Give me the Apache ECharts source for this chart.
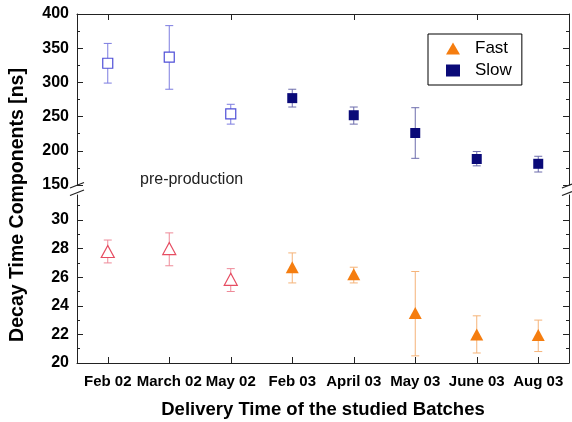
<!DOCTYPE html>
<html>
<head>
    <meta charset="utf-8">
    <title>Decay time components</title>
    <script src="https://cdn.jsdelivr.net/npm/echarts@6/dist/echarts.min.js"></script>
    <style>
        body { margin: 0; background: #fff; }
    </style>
</head>
<body>
<div id="main" style="width: 572px;height:422px;"></div>
<script type="text/javascript">
    // batches, first three are pre-production
    var categories = ['Feb 02', 'March 02', 'May 02', 'Feb 03', 'April 03', 'May 03', 'June 03', 'Aug 03'];
    var nPre = 3;

    // slow component [ns]
    var slowVal  = [328, 337, 254, 277, 252, 226, 188, 181];
    var slowLow  = [299, 290, 239, 264, 239, 189, 178, 169];
    var slowHigh = [357, 383, 268, 290, 264, 263, 199, 192];

    // fast component [ns]
    var fastVal  = [27.8, 28.0, 25.85, 26.7, 26.2, 23.5, 22.0, 21.95];
    var fastLow  = [27.0, 26.8, 25.0, 25.6, 25.6, 20.5, 20.7, 20.8];
    var fastHigh = [28.6, 29.1, 26.6, 27.7, 26.7, 26.4, 23.3, 23.0];

    var fastTicks = [20, 22, 24, 26, 28, 30];
    var fastMinor = [21, 23, 25, 27, 29, 31];

    var axisCol = '#222';
    var font = 'Arial, "Liberation Sans", sans-serif';

    function points(vals, pre) {
        var out = [];
        for (var i = 0; i < vals.length; i++) {
            if ((i < nPre) === pre) out.push([i, vals[i]]);
        }
        return out;
    }

    function bars(low, high, pre) {
        var out = [];
        for (var i = 0; i < low.length; i++) {
            if ((i < nPre) === pre) out.push([i, low[i], high[i]]);
        }
        return out;
    }

    function errorBar(color) {
        return function (params, api) {
            var lo = api.coord([api.value(0), api.value(1)]);
            var hi = api.coord([api.value(0), api.value(2)]);
            var w = 4;
            var st = { stroke: color, lineWidth: 1 };
            return {
                type: 'group',
                children: [
                    { type: 'line', shape: { x1: lo[0], y1: lo[1], x2: hi[0], y2: hi[1] }, style: st },
                    { type: 'line', shape: { x1: lo[0] - w, y1: lo[1], x2: lo[0] + w, y2: lo[1] }, style: st },
                    { type: 'line', shape: { x1: hi[0] - w, y1: hi[1], x2: hi[0] + w, y2: hi[1] }, style: st }
                ]
            };
        };
    }

    function catAxis(grid, pos, labels) {
        return {
            type: 'category',
            gridIndex: grid,
            position: pos,
            data: categories,
            boundaryGap: true,
            axisLine: { show: true, lineStyle: { color: axisCol, width: 1 } },
            axisTick: { show: true, inside: true, alignWithLabel: true, length: 6, lineStyle: { color: axisCol } },
            axisLabel: labels ? {
                show: true, interval: 0, margin: 11,
                color: '#000', fontSize: 15, fontWeight: 'bold', fontFamily: font
            } : { show: false },
            splitLine: { show: false }
        };
    }

    var myChart = echarts.init(document.getElementById('main'));
    var option = {
        animation: false,
        backgroundColor: '#fff',
        grid: [
            { left: 77, right: 3, top: 14, height: 171 },
            { left: 77, right: 3, top: 195, height: 168 }
        ],
        legend: {
            data: ['Fast', 'Slow'],
            orient: 'vertical',
            left: 428,
            top: 34,
            padding: [6, 10, 6, 18],
            itemGap: 5,
            itemWidth: 14,
            itemHeight: 12,
            borderColor: '#000',
            borderWidth: 1,
            textStyle: { fontSize: 17, fontFamily: font, color: '#000', padding: [0, 0, 0, 10] }
        },
        xAxis: [
            // top grid, hosts the data (no visible line at the break)
            Object.assign(catAxis(0, 'bottom', false), { axisLine: { show: false }, axisTick: { show: false } }),
            // top frame
            catAxis(0, 'top', false),
            // bottom grid with labels
            Object.assign(catAxis(1, 'bottom', true), {
                name: 'Delivery Time of the studied Batches',
                nameLocation: 'middle',
                nameGap: 37,
                nameTextStyle: { fontSize: 18.5, fontWeight: 'bold', fontFamily: font, color: '#000' }
            })
        ],
        yAxis: [
            {
                type: 'value', gridIndex: 0, position: 'left',
                min: 150, max: 400, interval: 50,
                axisLine: { show: true, lineStyle: { color: axisCol } },
                axisTick: { show: true, inside: true, length: 6, lineStyle: { color: axisCol } },
                minorTick: { show: true, splitNumber: 2, length: 3, lineStyle: { color: axisCol } },
                axisLabel: { margin: 8, color: '#000', fontSize: 16, fontWeight: 'bold', fontFamily: font },
                splitLine: { show: false }
            },
            {
                type: 'value', gridIndex: 0, position: 'right',
                min: 150, max: 400, interval: 50,
                axisLine: { show: true, lineStyle: { color: axisCol } },
                axisTick: { show: true, inside: true, length: 6, lineStyle: { color: axisCol } },
                minorTick: { show: true, splitNumber: 2, length: 3, lineStyle: { color: axisCol } },
                axisLabel: { show: false },
                splitLine: { show: false }
            },
            {
                type: 'value', gridIndex: 1, position: 'left',
                min: 20, max: 31.75, interval: 2,
                axisLine: { show: true, lineStyle: { color: axisCol } },
                axisTick: { show: true, inside: true, length: 6, customValues: fastTicks, lineStyle: { color: axisCol } },
                axisLabel: { margin: 8, customValues: fastTicks, color: '#000', fontSize: 16, fontWeight: 'bold', fontFamily: font },
                splitLine: { show: false }
            },
            {
                type: 'value', gridIndex: 1, position: 'right',
                min: 20, max: 31.75, interval: 2,
                axisLine: { show: true, lineStyle: { color: axisCol } },
                axisTick: { show: true, inside: true, length: 6, customValues: fastTicks, lineStyle: { color: axisCol } },
                axisLabel: { show: false },
                splitLine: { show: false }
            },
            // minor ticks of the lower panel
            {
                type: 'value', gridIndex: 1, position: 'left',
                min: 20, max: 31.75,
                axisLine: { show: false },
                axisTick: { show: true, inside: true, length: 3, customValues: fastMinor, lineStyle: { color: axisCol } },
                axisLabel: { show: false },
                splitLine: { show: false }
            },
            {
                type: 'value', gridIndex: 1, position: 'right',
                min: 20, max: 31.75,
                axisLine: { show: false },
                axisTick: { show: true, inside: true, length: 3, customValues: fastMinor, lineStyle: { color: axisCol } },
                axisLabel: { show: false },
                splitLine: { show: false }
            }
        ],
        graphic: [
            {
                type: 'text', x: 18, y: 205, rotation: Math.PI / 2,
                style: {
                    text: 'Decay Time Components [ns]', fill: '#000',
                    font: 'bold 19.5px ' + font, align: 'center', verticalAlign: 'middle'
                }
            },
            {
                type: 'text', x: 140, y: 180,
                style: { text: 'pre-production', fill: '#222', font: '16px ' + font, verticalAlign: 'middle' }
            },
            // axis break marks
            { type: 'line', shape: { x1: 70, y1: 188, x2: 84, y2: 182.5 }, style: { stroke: axisCol, lineWidth: 1.2 } },
            { type: 'line', shape: { x1: 70, y1: 195.5, x2: 84, y2: 190 }, style: { stroke: axisCol, lineWidth: 1.2 } },
            { type: 'line', shape: { x1: 562, y1: 188, x2: 572, y2: 184 }, style: { stroke: axisCol, lineWidth: 1.2 } },
            { type: 'line', shape: { x1: 562, y1: 195.5, x2: 572, y2: 191.5 }, style: { stroke: axisCol, lineWidth: 1.2 } }
        ],
        series: [
            {
                type: 'custom', name: 'slowPreErr', xAxisIndex: 0, yAxisIndex: 0,
                renderItem: errorBar('#7c7ce0'), data: bars(slowLow, slowHigh, true), z: 2
            },
            {
                type: 'custom', name: 'slowErr', xAxisIndex: 0, yAxisIndex: 0,
                renderItem: errorBar('#6c6cac'), data: bars(slowLow, slowHigh, false), z: 2
            },
            {
                type: 'custom', name: 'fastPreErr', xAxisIndex: 2, yAxisIndex: 2,
                renderItem: errorBar('#ee8a98'), data: bars(fastLow, fastHigh, true), z: 2
            },
            {
                type: 'custom', name: 'fastErr', xAxisIndex: 2, yAxisIndex: 2,
                renderItem: errorBar('#f5b378'), data: bars(fastLow, fastHigh, false), z: 2
            },
            {
                type: 'scatter', name: 'slowPre', xAxisIndex: 0, yAxisIndex: 0,
                symbol: 'rect', symbolSize: 10,
                itemStyle: { color: '#fff', borderColor: '#4f4fd8', borderWidth: 1.2, opacity: 1 },
                data: points(slowVal, true), z: 5
            },
            {
                type: 'scatter', name: 'Slow', xAxisIndex: 0, yAxisIndex: 0,
                symbol: 'rect', symbolSize: 10,
                itemStyle: { color: '#0a0a78', opacity: 1 },
                data: points(slowVal, false), z: 5
            },
            {
                type: 'scatter', name: 'fastPre', xAxisIndex: 2, yAxisIndex: 2,
                symbol: 'triangle', symbolSize: [13, 12],
                itemStyle: { color: '#fff', borderColor: '#e64d62', borderWidth: 1.2, opacity: 1 },
                data: points(fastVal, true), z: 5
            },
            {
                type: 'scatter', name: 'Fast', xAxisIndex: 2, yAxisIndex: 2,
                symbol: 'triangle', symbolSize: [13, 12],
                itemStyle: { color: '#f57d0f', opacity: 1 },
                data: points(fastVal, false), z: 5
            }
        ]
    };
    myChart.setOption(option);
</script>
</body>
</html>
